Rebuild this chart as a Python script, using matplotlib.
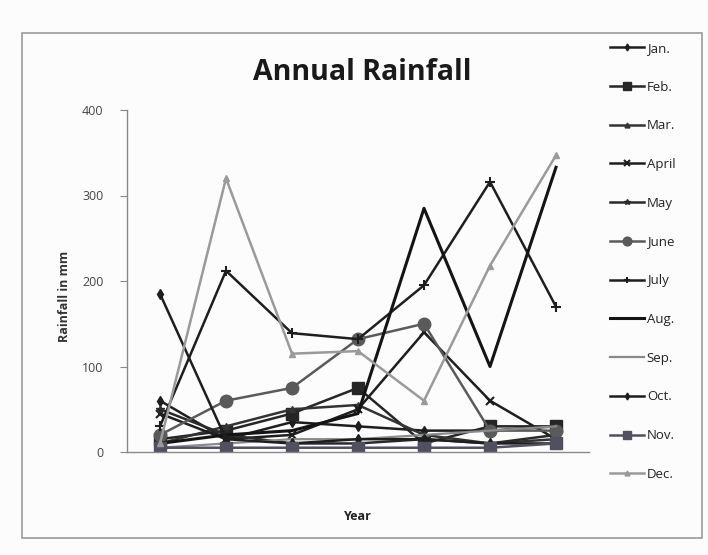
import matplotlib
matplotlib.use("Agg")
import matplotlib.pyplot as plt
from matplotlib.patches import Rectangle

years = [1, 2, 3, 4, 5, 6, 7]
months = ["Jan.", "Feb.", "Mar.", "April", "May", "June", "July", "Aug.", "Sep.", "Oct.", "Nov.", "Dec."]

jan = [60, 15, 35, 30, 25, 25, 30]
feb = [15, 25, 45, 75, 10, 30, 30]
mar = [10, 30, 50, 55, 20, 10, 15]
april = [45, 15, 20, 50, 140, 60, 15]
may = [50, 20, 10, 10, 15, 10, 20]
june = [20, 60, 75, 132, 150, 25, 25]
july = [30, 212, 139, 132, 195, 316, 170]
aug = [10, 20, 25, 45, 285, 100, 333]
sep = [5, 10, 15, 15, 20, 25, 30]
octo = [185, 15, 10, 15, 15, 10, 10]
nov = [5, 5, 5, 5, 5, 5, 10]
dec = [10, 320, 115, 118, 60, 218, 347]

series = [jan, feb, mar, april, may, june, july, aug, sep, octo, nov, dec]

styles = [
    dict(color="#1e1e1e", marker="d", ms=5, lw=1.8),
    dict(color="#262626", marker="s", ms=8, lw=1.8),
    dict(color="#333333", marker="^", ms=5, lw=1.8),
    dict(color="#1e1e1e", marker="x", ms=6, lw=1.8, mew=1.5),
    dict(color="#2a2a2a", marker="*", ms=6, lw=1.8),
    dict(color="#5a5a5a", marker="o", ms=9, lw=1.8),
    dict(color="#1e1e1e", marker="+", ms=7, lw=1.8, mew=1.5),
    dict(color="#141414", marker=None, lw=2.2),
    dict(color="#8a8a8a", marker=None, lw=1.6),
    dict(color="#1e1e1e", marker="d", ms=5, lw=1.8),
    dict(color="#505060", marker="s", ms=8, lw=1.8),
    dict(color="#9a9a9a", marker="^", ms=5, lw=1.8),
]

fig = plt.figure(figsize=(7.08, 5.55), dpi=100, facecolor="#fcfcfc")
ax = fig.add_axes([127/708, 1-452/555, 462/708, 342/555])
ax.set_facecolor("#fcfcfc")

xpos = list(range(len(years)))
handles = []
for name, vals, st in zip(months, series, styles):
    h, = ax.plot(xpos, vals, label=name, **st)
    handles.append(h)

ax.set_xlim(-0.5, len(years) - 0.5)
ax.set_ylim(0, 400)
ax.set_yticks([0, 100, 200, 300, 400])
ax.set_xticks([])
for s in ["top", "right"]:
    ax.spines[s].set_visible(False)
for s in ["left", "bottom"]:
    ax.spines[s].set_color("#888888")
    ax.spines[s].set_linewidth(1.0)
ax.tick_params(axis="y", colors="#888888", labelcolor="#444444", labelsize=9, length=5, pad=12)
for lab in ax.get_yticklabels():
    lab.set_family("Open Sans")

ax.set_ylabel("Rainfall in mm", fontsize=9, fontweight="bold", family="Open Sans", color="#333333", labelpad=8)
ax.yaxis.label.set_y(0.455)
ax.set_xlabel("Year", fontsize=9, fontweight="bold", family="Open Sans", color="#222222", labelpad=42)

fig.text(362/708, 1-72/555, "Annual Rainfall", ha="center", va="center",
         fontsize=20.5, fontweight="bold", family="Open Sans", color="#1a1a1a")

leg = fig.legend(handles=handles, labels=months, loc="upper left",
                 bbox_to_anchor=(598/708, 1-30/555), frameon=False,
                 handlelength=2.6, labelspacing=1.95, handletextpad=0.2,
                 markerscale=0.7,
                 prop={"family": "Open Sans", "size": 9.5})
for t in leg.get_texts():
    t.set_color("#222222")

fig.patches.append(Rectangle((22/708, 1-538/555), 680/708, 505/555, transform=fig.transFigure,
                             fill=False, edgecolor="#9a9a9a", linewidth=1.2))

fig.savefig("out.png", dpi=100, facecolor=fig.get_facecolor())
